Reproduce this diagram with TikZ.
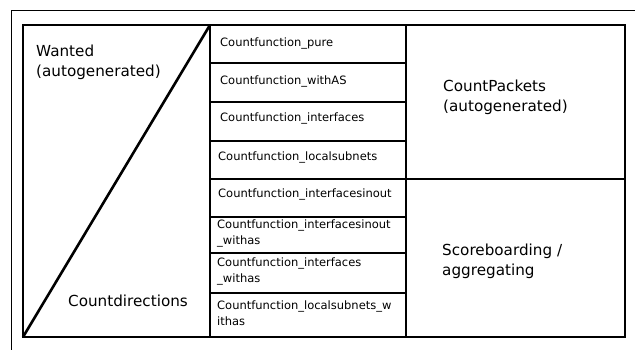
\documentclass[tikz,border=0pt]{standalone}
\usepackage{fontspec}
\setmainfont{DejaVu Sans}
\usetikzlibrary{positioning,calc}
\tikzset{
  grid/.style={line width=2.6pt},
  frame/.style={line width=0.9pt},
  bigtext/.style={anchor=north west, inner sep=0pt, align=left,
                  font=\fontsize{15.2}{20}\selectfont},
  fntext/.style={anchor=north west, inner sep=0pt, align=left,
                 font=\fontsize{11.5}{16}\selectfont},
}

\begin{document}
\begin{tikzpicture}[x=1pt,y=-1pt]
\useasboundingbox (0,0) rectangle (635,350);

% -------------------- Outer frame --------------------
\draw[frame] (11,350) -- (11,10) -- (635,10);

% -------------------- Table --------------------
\coordinate (tl) at (23,25);
\coordinate (br) at (625,337);
\coordinate (bl) at (23,337);
\coordinate (apex) at (210,25);
\draw[grid] (tl) rectangle (br);
\draw[grid] (210,25) -- (210,337);
\draw[grid] (406,25) -- (406,337);
\draw[grid] (406,179) -- (625,179);
\foreach \y in {63,102,141,179,217,253,293}
  \draw[grid] (210,\y) -- (406,\y);
\draw[grid] (bl) -- (apex);

% -------------------- Labels --------------------
\node[bigtext] (wanted) at (36,45) {Wanted\\(autogenerated)};
\node[bigtext] (dirs) at (68,295) {Countdirections};
\node[bigtext] (packets) at (443,80) {CountPackets\\(autogenerated)};
\node[bigtext] (score) at (442,243.5) {Scoreboarding /\\aggregating};

% -------------------- Count functions --------------------
\foreach \y/\x/\txt [count=\i] in {
    37.3/220/{Countfunction\_pure},
    75.3/220/{Countfunction\_withAS},
    112.6/220/{Countfunction\_interfaces},
    151.3/218/{Countfunction\_localsubnets},
    188.6/218/{Countfunction\_interfacesinout},
    219.6/217/{Countfunction\_interfacesinout\\\_withas},
    258/217/{Countfunction\_interfaces\\\_withas},
    300.6/217/{Countfunction\_localsubnets\_w\\ithas}}
  \node[fntext] (fn\i) at (\x,\y) {\txt};

\end{tikzpicture}
\end{document}
